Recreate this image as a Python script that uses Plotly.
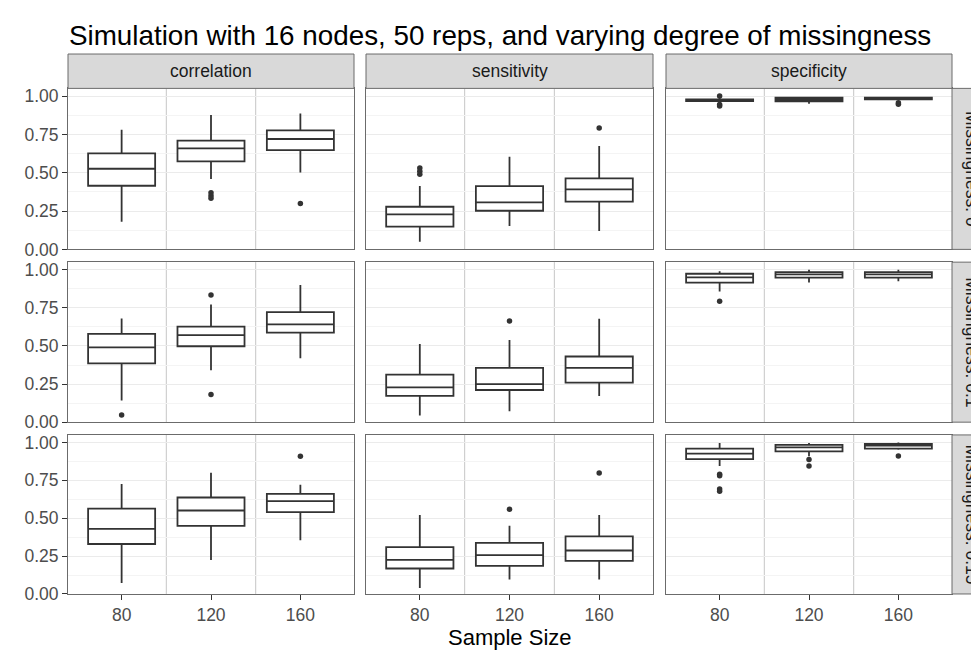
import plotly.graph_objects as go

# Facet layout: columns are metrics, rows are missingness levels
sample_sizes = ["80", "120", "160"]
metrics = ["correlation", "sensitivity", "specificity"]
missingness = ["Missingness: 0", "Missingness: 0.1", "Missingness: 0.15"]

# Box statistics, one inner list per missingness level (sample sizes 80, 120, 160)
correlation_low = [[0.180, 0.459, 0.502], [0.142, 0.340, 0.420], [0.073, 0.225, 0.354]]
correlation_q1 = [[0.415, 0.574, 0.648], [0.386, 0.498, 0.588], [0.330, 0.449, 0.540]]
correlation_med = [[0.526, 0.659, 0.720], [0.491, 0.571, 0.642], [0.430, 0.551, 0.613]]
correlation_q3 = [[0.626, 0.709, 0.776], [0.580, 0.627, 0.722], [0.564, 0.637, 0.661]]
correlation_high = [[0.780, 0.876, 0.887], [0.681, 0.772, 0.900], [0.726, 0.801, 0.721]]
correlation_out = [[[], [0.370, 0.350, 0.333], [0.300]],
                   [[0.047], [0.181, 0.835], []],
                   [[], [], [0.909]]]

sensitivity_low = [[0.050, 0.152, 0.120], [0.043, 0.071, 0.172], [0.039, 0.095, 0.095]]
sensitivity_q1 = [[0.148, 0.252, 0.311], [0.172, 0.211, 0.259], [0.168, 0.186, 0.218]]
sensitivity_med = [[0.228, 0.307, 0.391], [0.228, 0.250, 0.356], [0.225, 0.257, 0.287]]
sensitivity_q3 = [[0.278, 0.413, 0.463], [0.312, 0.356, 0.431], [0.309, 0.337, 0.380]]
sensitivity_high = [[0.413, 0.604, 0.674], [0.513, 0.539, 0.679], [0.521, 0.451, 0.521]]
sensitivity_out = [[[0.530, 0.510, 0.490], [], [0.791]],
                   [[], [0.664], []],
                   [[], [0.559], [0.799]]]

specificity_low = [[0.957, 0.950, 0.972], [0.857, 0.917, 0.925], [0.845, 0.909, 0.952]]
specificity_q1 = [[0.967, 0.966, 0.978], [0.915, 0.949, 0.949], [0.890, 0.942, 0.959]]
specificity_med = [[0.973, 0.978, 0.984], [0.950, 0.970, 0.970], [0.927, 0.968, 0.980]]
specificity_q3 = [[0.979, 0.990, 0.990], [0.974, 0.985, 0.985], [0.959, 0.985, 0.991]]
specificity_high = [[0.990, 0.995, 0.996], [0.990, 1.000, 1.000], [0.996, 0.996, 1.000]]
specificity_out = [[[1.000, 0.945, 0.935], [], [0.957, 0.946]],
                   [[0.793], [], []],
                   [[0.790, 0.780, 0.693, 0.678], [0.888, 0.845], [0.911]]]

y_ticks = [0.0, 0.25, 0.5, 0.75, 1.0]
y_tick_labels = ["0.00", "0.25", "0.50", "0.75", "1.00"]

stats = {
    "correlation": (correlation_low, correlation_q1, correlation_med,
                    correlation_q3, correlation_high, correlation_out),
    "sensitivity": (sensitivity_low, sensitivity_q1, sensitivity_med,
                    sensitivity_q3, sensitivity_high, sensitivity_out),
    "specificity": (specificity_low, specificity_q1, specificity_med,
                    specificity_q3, specificity_high, specificity_out),
}

W, H = 971, 656
FONT = "Liberation Sans, Arial, sans-serif"
col_px = [(68, 354), (366, 653), (666, 952)]
row_px = [(88, 252), (265, 428), (441, 603)]
strip_top = 53


def px_x(v):
    return v / W


def px_y(v):
    return 1 - v / H


fig = go.Figure()
layout = dict(
    width=W, height=H,
    margin=dict(l=0, r=0, t=0, b=0),
    paper_bgcolor="white", plot_bgcolor="white",
    showlegend=False, boxmode="overlay",
    font=dict(family=FONT, color="#4d4d4d"),
)
shapes, annotations = [], []

for r in range(3):
    for c, metric in enumerate(metrics):
        k = r * 3 + c + 1
        xs = "x" if k == 1 else f"x{k}"
        ys = "y" if k == 1 else f"y{k}"
        low, q1, med, q3, high, out = stats[metric]
        for i in range(3):
            pos = i + 1
            fig.add_trace(go.Box(
                x=[pos], q1=[q1[r][i]], median=[med[r][i]], q3=[q3[r][i]],
                lowerfence=[low[r][i]], upperfence=[high[r][i]],
                width=0.75, whiskerwidth=0, boxpoints=False,
                fillcolor="white", line=dict(color="#333333", width=1.8),
                xaxis=xs, yaxis=ys, hoverinfo="skip",
            ))
            if out[r][i]:
                fig.add_trace(go.Scatter(
                    x=[pos] * len(out[r][i]), y=out[r][i], mode="markers",
                    marker=dict(color="#333333", size=5.5),
                    xaxis=xs, yaxis=ys, hoverinfo="skip",
                ))
        x0, x1 = col_px[c]
        y0, y1 = row_px[r]
        layout["xaxis" if k == 1 else f"xaxis{k}"] = dict(
            domain=[px_x(x0), px_x(x1)], anchor=ys,
            range=[0.4, 3.6], tickvals=[1, 2, 3], ticktext=sample_sizes,
            showticklabels=(r == 2), ticks="outside" if r == 2 else "",
            ticklen=5, tickcolor="#333333", tickfont=dict(size=17.5, color="#4d4d4d"),
            showgrid=False, zeroline=False,
            showline=True, mirror=True, linecolor="#6b6b6b", linewidth=1,
        )
        layout["yaxis" if k == 1 else f"yaxis{k}"] = dict(
            domain=[px_y(y1), px_y(y0)], anchor=xs,
            range=[0, 1.05], tickvals=y_ticks, ticktext=y_tick_labels,
            showticklabels=(c == 0), ticks="outside" if c == 0 else "",
            ticklen=5, tickcolor="#333333", tickfont=dict(size=17.5, color="#4d4d4d"),
            showgrid=True, gridcolor="#ebebeb", gridwidth=1,
            minor=dict(tickvals=[0.125, 0.375, 0.625, 0.875], showgrid=True,
                       gridcolor="#f4f4f4", gridwidth=1, ticks=""),
            zeroline=False,
            showline=True, mirror=True, linecolor="#6b6b6b", linewidth=1,
        )
        # separators between sample-size groups
        for xv in (1.5, 2.5):
            shapes.append(dict(type="line", xref=xs, yref=f"{ys} domain",
                               x0=xv, x1=xv, y0=0, y1=1, layer="below",
                               line=dict(color="#c6c6c6", width=1)))

# column strips
for c, metric in enumerate(metrics):
    x0, x1 = col_px[c]
    shapes.append(dict(type="rect", xref="paper", yref="paper",
                       x0=px_x(x0), x1=px_x(x1), y0=px_y(row_px[0][0]), y1=px_y(strip_top),
                       fillcolor="#d9d9d9", line=dict(color="#6b6b6b", width=1)))
    annotations.append(dict(text=metric, xref="paper", yref="paper",
                            x=px_x((x0 + x1) / 2), y=px_y((strip_top + row_px[0][0]) / 2),
                            showarrow=False, xanchor="center", yanchor="middle",
                            font=dict(size=17.5, color="#1a1a1a", family=FONT)))

# row strips on the right (run past the page edge)
strip_x0, strip_x1 = 952, 992
for r, label in enumerate(missingness):
    y0, y1 = row_px[r]
    shapes.append(dict(type="rect", xref="paper", yref="paper",
                       x0=px_x(strip_x0), x1=px_x(strip_x1), y0=px_y(y1), y1=px_y(y0),
                       fillcolor="#d9d9d9", line=dict(color="#6b6b6b", width=1)))
    annotations.append(dict(text=label, xref="paper", yref="paper",
                            x=px_x(972), y=px_y((y0 + y1) / 2),
                            textangle=90, showarrow=False,
                            xanchor="center", yanchor="middle",
                            font=dict(size=17.5, color="#1a1a1a", family=FONT)))

# title and axis title
annotations.append(dict(text="Simulation with 16 nodes, 50 reps, and varying degree of missingness",
                        xref="paper", yref="paper", x=px_x(67), y=px_y(34),
                        xanchor="left", yanchor="middle", showarrow=False,
                        font=dict(size=27.8, color="black", family=FONT)))
annotations.append(dict(text="Sample Size", xref="paper", yref="paper",
                        x=px_x(510), y=px_y(647), xanchor="center", yanchor="middle",
                        showarrow=False, font=dict(size=22, color="black", family=FONT)))

layout["shapes"] = shapes
layout["annotations"] = annotations
fig.update_layout(**layout)
fig.write_html("out.html")
